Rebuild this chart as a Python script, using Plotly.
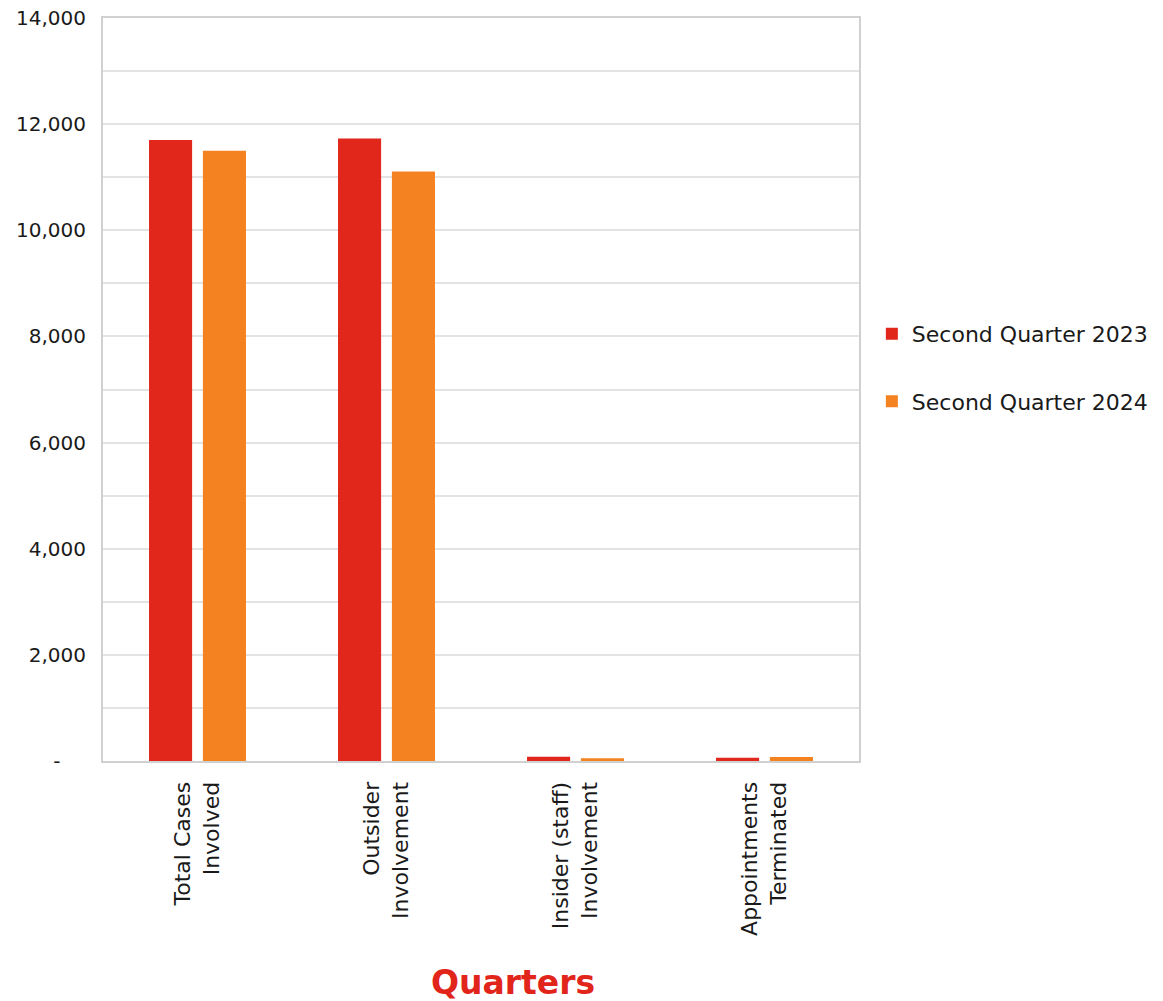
import plotly.graph_objects as go

# Categories and series values
categories = [
    "Total Cases<br>Involved",
    "Outsider<br>Involvement",
    "Insider (staff)<br>Involvement",
    "Appointments<br>Terminated",
]
q2_2023 = [11700, 11730, 82, 62]
q2_2024 = [11500, 11110, 50, 75]

series_names = ["Second Quarter 2023", "Second Quarter 2024"]
series_colors = ["#e1261c", "#f58220"]

y_tickvals = [0, 2000, 4000, 6000, 8000, 10000, 12000, 14000]
y_ticktext = ["-\u00a0\u00a0\u00a0\u00a0", "2,000", "4,000", "6,000",
              "8,000", "10,000", "12,000", "14,000"]

FONT = "DejaVu Sans"
TEXT = "#1a1a1a"

fig = go.Figure()
for i, (name, vals, col) in enumerate(zip(series_names, [q2_2023, q2_2024], series_colors)):
    fig.add_trace(go.Bar(
        x=categories, y=vals, name=name,
        marker=dict(color=col, line=dict(width=0)),
        legendgroup=f"g{i}",
    ))

fig.update_layout(
    width=1163, height=1001,
    margin=dict(l=103, r=304, t=18, b=240, autoexpand=False),
    paper_bgcolor="white", plot_bgcolor="white",
    barmode="group", bargap=0.43, bargroupgap=0.2,
    font=dict(family=FONT, size=20, color=TEXT),
    legend=dict(
        x=1.017, y=0.529, xanchor="left", yanchor="middle",
        font=dict(family=FONT, size=22, color=TEXT),
        tracegroupgap=36, itemwidth=30,
    ),
    showlegend=True,
    annotations=[dict(
        text="<b>Quarters</b>", xref="paper", yref="paper",
        x=0.542, y=-0.2975, xanchor="center", yanchor="middle",
        showarrow=False, font=dict(family=FONT, size=33, color="#e1251b"),
    )],
)

fig.update_xaxes(
    tickangle=-90,
    tickfont=dict(family=FONT, size=22, color=TEXT),
    showline=True, linecolor="#d0d0d0", linewidth=2, mirror=True,
    ticks="", ticklabelstandoff=10, automargin=False,
)
fig.update_yaxes(
    range=[0, 14000],
    tickvals=y_tickvals, ticktext=y_ticktext,
    tickfont=dict(family=FONT, size=20, color=TEXT),
    showgrid=True, gridcolor="#e3e3e3", gridwidth=2,
    minor=dict(dtick=1000, showgrid=True, gridcolor="#e3e3e3", gridwidth=2),
    showline=True, linecolor="#d0d0d0", linewidth=2, mirror=True,
    ticks="", ticklabelstandoff=11, zeroline=False, automargin=False,
)

fig.write_html("out.html")
